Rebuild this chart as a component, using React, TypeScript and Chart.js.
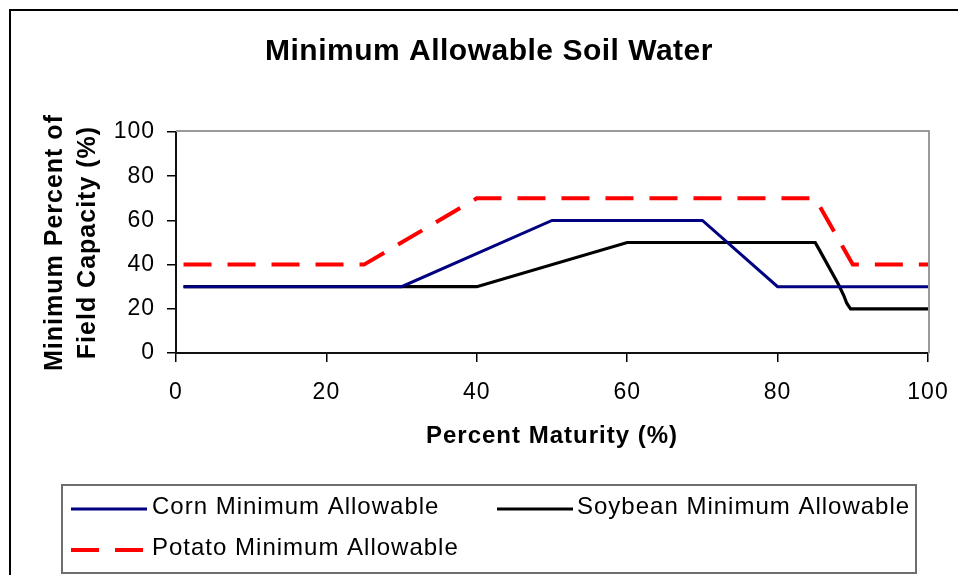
import React, { useEffect, useRef } from "react";
import { Chart, registerables } from "chart.js";

Chart.register(...registerables);

// ---- data ----
const chartTitle = "Minimum Allowable Soil Water";
const xAxisTitle = "Percent Maturity (%)";
const yAxisTitle = ["Minimum Percent of", "Field Capacity (%)"];
const xTicks = [0, 20, 40, 60, 80, 100];
const yTicks = [0, 20, 40, 60, 80, 100];

const cornLabel = "Corn Minimum Allowable";
const cornX = [1, 30, 50, 70, 80, 100];
const cornY = [30, 30, 60, 60, 30, 30];

const soyLabel = "Soybean Minimum Allowable";
const soyX = [1, 40, 60, 85, 85.5, 88.1, 88.8, 89.2, 89.7, 100];
const soyY = [30, 30, 50, 50, 47, 31, 26, 22.5, 20, 20];

const potatoLabel = "Potato Minimum Allowable";
const potatoX = [1, 25, 40, 85, 90, 100];
const potatoY = [40, 40, 70, 70, 40, 40];

const FONT = "'Liberation Sans', Arial, Helvetica, sans-serif";

const toPts = (xs: number[], ys: number[]) => xs.map((x, i) => ({ x, y: ys[i] }));

const framePlugin = {
  id: "frame",
  beforeDraw(chart: any) {
    const { ctx, width, height } = chart;
    ctx.save();
    ctx.fillStyle = "#ffffff";
    ctx.fillRect(0, 0, width, height);
    ctx.strokeStyle = "#000000";
    ctx.lineWidth = 2;
    ctx.beginPath();
    ctx.moveTo(10, height + 5);
    ctx.lineTo(10, 10);
    ctx.lineTo(width + 5, 10);
    ctx.stroke();
    ctx.restore();
    // slightly wider letter spacing, like the original rendering
    (ctx as any).letterSpacing = "1px";
  },
  beforeDatasetsDraw(chart: any) {
    const { ctx, chartArea } = chart;
    ctx.save();
    ctx.strokeStyle = "#9a9a9a";
    ctx.lineWidth = 2;
    ctx.beginPath();
    ctx.moveTo(chartArea.left, chartArea.top - 1);
    ctx.lineTo(chartArea.right + 1, chartArea.top - 1);
    ctx.lineTo(chartArea.right + 1, chartArea.bottom);
    ctx.stroke();
    ctx.restore();
  },
  afterDraw(chart: any) {
    const { ctx } = chart;
    ctx.save();
    // title
    ctx.fillStyle = "#000";
    (ctx as any).letterSpacing = "0.5px";
    ctx.font = `bold 30px ${FONT}`;
    ctx.textAlign = "center";
    ctx.textBaseline = "alphabetic";
    ctx.fillText(chartTitle, 489, 60);

    // legend box
    ctx.strokeStyle = "#6e6e6e";
    ctx.lineWidth = 2;
    ctx.strokeRect(62, 485, 854, 88);

    const ds = chart.data.datasets;
    const items = [
      { d: ds[0], x0: 71, x1: 147, tx: 152, y: 509 },
      { d: ds[1], x0: 497, x1: 573, tx: 577, y: 509 },
      { d: ds[2], x0: 71, x1: 143, tx: 152, y: 550 },
    ];
    (ctx as any).letterSpacing = "1px";
    ctx.font = `24px ${FONT}`;
    ctx.textAlign = "left";
    ctx.textBaseline = "middle";
    for (const it of items) {
      ctx.strokeStyle = it.d.borderColor;
      ctx.lineWidth = it.d.borderWidth;
      ctx.setLineDash(it.d.borderDash || []);
      ctx.beginPath();
      ctx.moveTo(it.x0, it.y);
      ctx.lineTo(it.x1, it.y);
      ctx.stroke();
      ctx.setLineDash([]);
      ctx.fillStyle = "#000";
      ctx.fillText(it.d.label, it.tx, it.y - 2);
    }
    ctx.restore();
  },
};

export default function App() {
  const ref = useRef<HTMLCanvasElement | null>(null);

  useEffect(() => {
    if (!ref.current) return;
    const chart = new Chart(ref.current, {
      type: "line",
      data: {
        datasets: [
          {
            label: cornLabel,
            data: toPts(cornX, cornY),
            borderColor: "#000080",
            borderWidth: 3,
            pointRadius: 0,
            tension: 0,
          },
          {
            label: soyLabel,
            data: toPts(soyX, soyY),
            borderColor: "#000000",
            borderWidth: 3.2,
            pointRadius: 0,
            tension: 0,
          },
          {
            label: potatoLabel,
            data: toPts(potatoX, potatoY),
            borderColor: "#ff0000",
            borderWidth: 4,
            borderDash: [28, 16],
            pointRadius: 0,
            tension: 0,
          },
        ],
      },
      options: {
        responsive: false,
        animation: false,
        events: [],
        layout: { autoPadding: false, padding: { left: 0, right: 30, top: 132, bottom: 122 } },
        plugins: {
          legend: { display: false },
          title: { display: false },
          tooltip: { enabled: false },
        },
        scales: {
          x: {
            type: "linear",
            min: 0,
            max: 100,
            afterBuildTicks: (s: any) => {
              s.ticks = xTicks.map((v) => ({ value: v }));
            },
            afterFit: (s: any) => {
              s.height = 100;
              s.paddingLeft = 0;
              s.paddingRight = 0;
            },
            ticks: {
              color: "#000",
              font: { family: FONT, size: 23 },
              padding: 17,
              maxRotation: 0,
            },
            grid: {
              drawOnChartArea: false,
              drawTicks: true,
              tickLength: 9,
              color: "#000",
              lineWidth: 1.5,
            },
            border: { color: "#111", width: 2 },
            title: {
              display: true,
              text: xAxisTitle,
              color: "#000",
              font: { family: FONT, size: 24, weight: "bold" },
              padding: { top: 0, bottom: 2 },
            },
          },
          y: {
            type: "linear",
            min: 0,
            max: 100,
            afterBuildTicks: (s: any) => {
              s.ticks = yTicks.map((v) => ({ value: v }));
            },
            afterFit: (s: any) => {
              s.width = 176;
              s.paddingTop = 0;
              s.paddingBottom = 0;
            },
            ticks: {
              color: "#000",
              font: { family: FONT, size: 23 },
              padding: 12,
            },
            grid: {
              drawOnChartArea: false,
              drawTicks: true,
              tickLength: 9,
              color: "#000",
              lineWidth: 1.5,
            },
            border: { color: "#111", width: 2 },
            title: {
              display: true,
              text: yAxisTitle,
              color: "#000",
              font: { family: FONT, size: 25, weight: "bold", lineHeight: 1.33 },
              padding: { top: 38, bottom: 0 },
            },
          },
        },
      },
      plugins: [framePlugin],
    });
    return () => chart.destroy();
  }, []);

  return (
    <div style={{ position: "fixed", left: 0, top: 0, width: 958, height: 575, background: "#fff" }}>
      <canvas ref={ref} width={958} height={575} style={{ display: "block", width: 958, height: 575 }} />
    </div>
  );
}
